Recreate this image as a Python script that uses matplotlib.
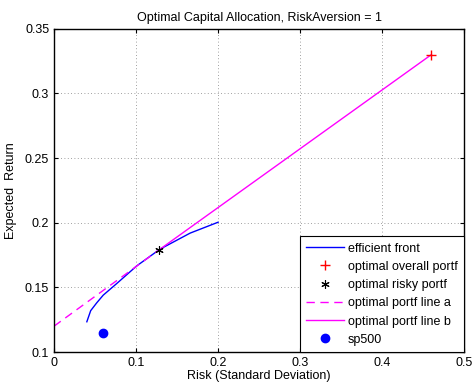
import matplotlib.pyplot as plt

# efficient frontier (risk, return)
front_risk = [0.040, 0.0447, 0.052, 0.060, 0.0765, 0.1008, 0.129, 0.166, 0.200]
front_ret = [0.1234, 0.132, 0.138, 0.144, 0.153, 0.1666, 0.1795, 0.192, 0.2004]

risk_free = 0.12
risky_pt = (0.128, 0.179)
overall_pt = (0.46, 0.33)
sp500_pt = (0.06, 0.115)

plt.rcParams['font.family'] = ['Liberation Sans', 'DejaVu Sans']
plt.rcParams['font.size'] = 9

fig = plt.figure(figsize=(4.74, 3.87), dpi=100)
ax = fig.add_axes([0.114, 0.0904, 0.865, 0.835])

ax.plot(front_risk, front_ret, color='blue', lw=1, label='efficient front')
ax.plot(overall_pt[0], overall_pt[1], '+', color='red', ms=7, mew=1,
        zorder=5, label='optimal overall portf')
ax.plot(risky_pt[0], risky_pt[1], marker=(6, 2, 0), ls='none', color='black',
        ms=6, mew=0.8, zorder=5, label='optimal risky portf')
ax.plot([0, risky_pt[0]], [risk_free, risky_pt[1]], '--', color='magenta',
        lw=1, dashes=(6, 4), label='optimal portf line a')
ax.plot([risky_pt[0], overall_pt[0]], [risky_pt[1], overall_pt[1]], '-',
        color='magenta', lw=1, label='optimal portf line b')
ax.plot(sp500_pt[0], sp500_pt[1], 'o', color='blue', ms=6, label='sp500')

ax.set_xlim(0, 0.5)
ax.set_ylim(0.1, 0.35)
ax.set_xticks([0, 0.1, 0.2, 0.3, 0.4, 0.5])
ax.set_xticklabels(['0', '0.1', '0.2', '0.3', '0.4', '0.5'])
ax.set_yticks([0.1, 0.15, 0.2, 0.25, 0.3, 0.35])
ax.set_yticklabels(['0.1', '0.15', '0.2', '0.25', '0.3', '0.35'])
ax.tick_params(direction='in', length=3, top=True, right=True, labelsize=9)
ax.grid(True, linestyle=(0, (1, 3)), color='gray', lw=0.6)
for s in ax.spines.values():
    s.set_linewidth(1)

ax.set_title('Optimal Capital Allocation, RiskAversion = 1', fontsize=9)
ax.set_xlabel('Risk (Standard Deviation)', labelpad=1)
ax.set_ylabel('Expected  Return', labelpad=6)

leg = ax.legend(loc='lower right', fancybox=False, edgecolor='black',
                borderaxespad=0, handlelength=3.0, handletextpad=0.35,
                labelspacing=0.5, borderpad=0.5, framealpha=1)
leg.get_frame().set_linewidth(0.8)
leg.set_zorder(10)

plt.savefig('out.png', dpi=100)
